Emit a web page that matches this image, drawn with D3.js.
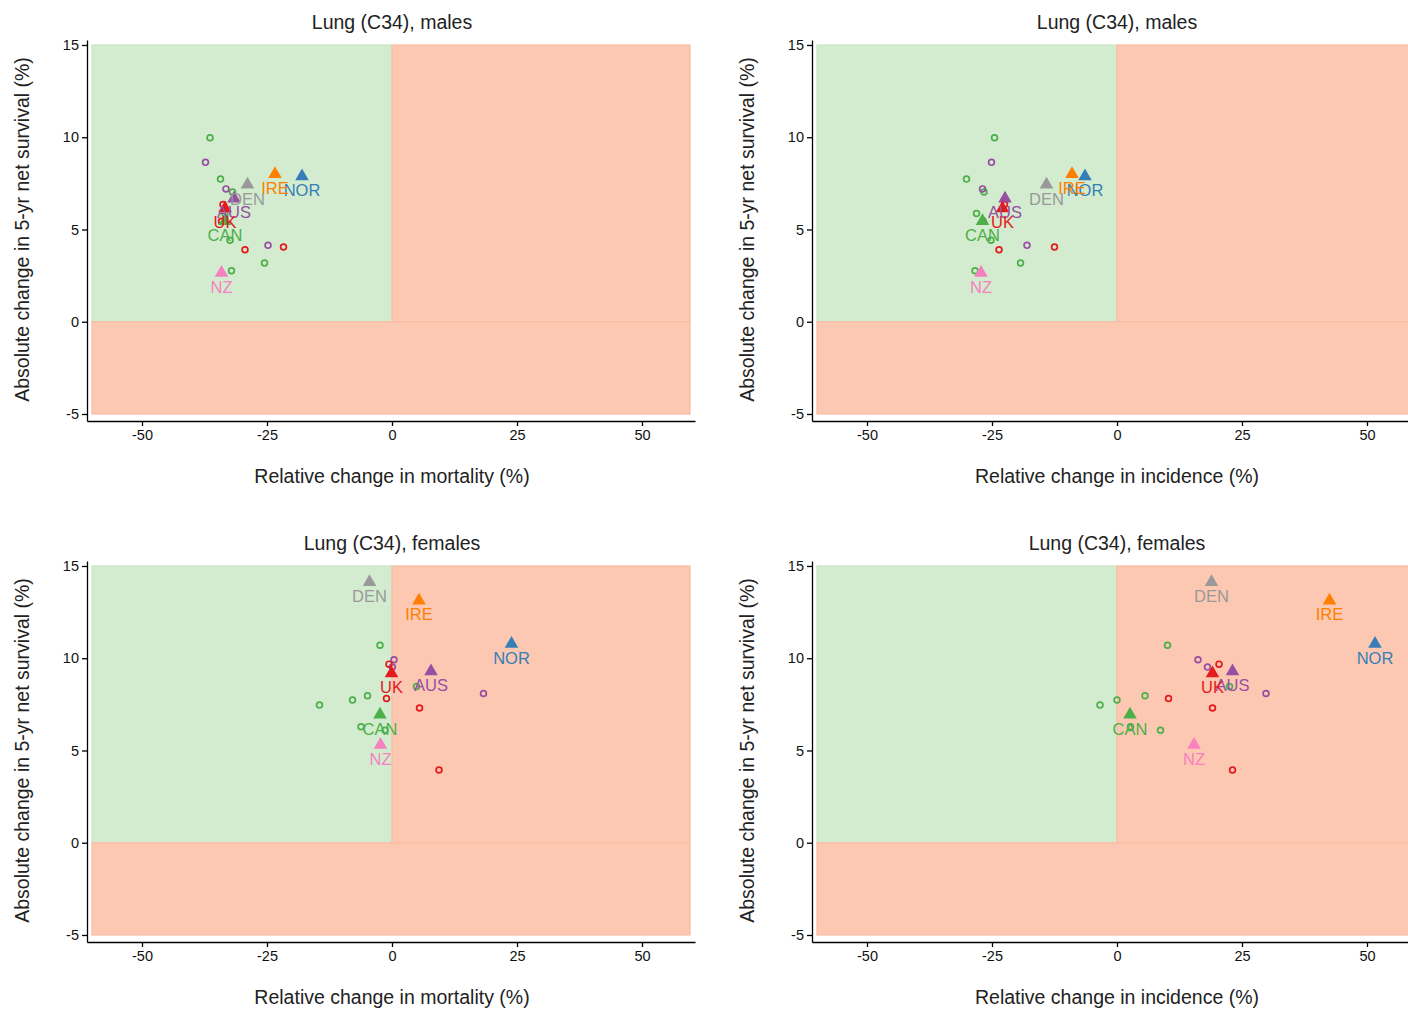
<!DOCTYPE html>
<html>
<head>
<meta charset="utf-8">
<script src="https://cdn.jsdelivr.net/npm/d3@7"></script>
<style>
  body { margin: 0; background: #fff; }
  svg { display: block; font-family: "Liberation Sans", Arial, sans-serif; }
</style>
</head>
<body>
<svg id="chart" width="1408" height="1011"></svg>
<script>
// national markers (triangles)
const countries = ['NOR', 'IRE', 'DEN', 'AUS', 'UK', 'CAN', 'NZ'];
const countryColors = ['#377eb8', '#ff7f00', '#999999', '#984ea3', '#e41a1c', '#4daf4a', '#f781bf'];

const maleSurv = [7.88, 8.0, 7.43, 6.68, 6.15, 5.45, 2.65];
const maleMort = [-18.0, -23.4, -28.9, -31.6, -33.4, -33.4, -34.1];
const maleInc = [-6.4, -9.0, -14.1, -22.4, -22.9, -26.9, -27.2];

const femaleSurv = [10.78, 13.13, 14.13, 9.29, 9.18, 6.94, 5.31];
const femaleMort = [23.9, 5.4, -4.5, 7.8, -0.1, -2.4, -2.3];
const femaleInc = [51.6, 42.5, 18.9, 23.1, 19.1, 2.6, 15.4];

// sub-national markers (hollow circles): CAN provinces, AUS states, UK nations
const regionGroups = ['CAN', 'AUS', 'UK'];
const regionColors = ['#4daf4a', '#984ea3', '#e41a1c'];

const maleCanSurv = [9.97, 7.73, 7.03, 5.87, 4.42, 3.18, 2.76];
const maleCanMort = [-36.4, -34.3, -31.9, -33.4, -32.4, -25.5, -32.1];
const maleCanInc = [-24.5, -30.1, -26.6, -28.1, -25.2, -19.3, -28.4];
const maleAusSurv = [8.64, 7.2, 4.14];
const maleAusMort = [-37.3, -33.2, -24.8];
const maleAusInc = [-25.1, -26.9, -18.0];
const maleUkSurv = [6.35, 5.44, 3.9, 4.05];
const maleUkMort = [-33.8, -34.1, -29.4, -21.7];
const maleUkInc = [-22.5, -26.8, -23.6, -12.5];

const femaleCanSurv = [10.7, 8.47, 7.97, 7.73, 7.46, 6.29, 6.1];
const femaleCanMort = [-2.4, 4.9, -4.9, -7.9, -14.5, -6.2, -1.4];
const femaleCanInc = [10.1, 22.5, 5.6, 0.0, -3.4, 2.7, 8.7];
const femaleAusSurv = [9.92, 9.52, 8.09];
const femaleAusMort = [0.4, 0.07, 18.3];
const femaleAusInc = [16.2, 18.1, 29.8];
const femaleUkSurv = [9.68, 7.82, 7.3, 3.94];
const femaleUkMort = [-0.6, -1.1, 5.5, 9.4];
const femaleUkInc = [20.4, 10.3, 19.1, 23.1];

const xTicks = [-50, -25, 0, 25, 50];
const yTicks = [-5, 0, 5, 10, 15];

const panels = [
  { title: 'Lung (C34), males', xLabel: 'Relative change in mortality (%)', dx: 0, dy: 0,
    surv: maleSurv, x: maleMort,
    regions: [[maleCanMort, maleCanSurv], [maleAusMort, maleAusSurv], [maleUkMort, maleUkSurv]] },
  { title: 'Lung (C34), males', xLabel: 'Relative change in incidence (%)', dx: 725, dy: 0,
    surv: maleSurv, x: maleInc,
    regions: [[maleCanInc, maleCanSurv], [maleAusInc, maleAusSurv], [maleUkInc, maleUkSurv]] },
  { title: 'Lung (C34), females', xLabel: 'Relative change in mortality (%)', dx: 0, dy: 521,
    surv: femaleSurv, x: femaleMort,
    regions: [[femaleCanMort, femaleCanSurv], [femaleAusMort, femaleAusSurv], [femaleUkMort, femaleUkSurv]] },
  { title: 'Lung (C34), females', xLabel: 'Relative change in incidence (%)', dx: 725, dy: 521,
    surv: femaleSurv, x: femaleInc,
    regions: [[femaleCanInc, femaleCanSurv], [femaleAusInc, femaleAusSurv], [femaleUkInc, femaleUkSurv]] }
];

const svg = d3.select('#chart');

const x = d3.scaleLinear().domain([-61, 60.6]).range([87, 695]);
const y = d3.scaleLinear().domain([-5.38, 15.27]).range([421, 40]);

const triangle = d3.symbol().type(d3.symbolTriangle).size(80);

function drawPanel(p) {
  const g = svg.append('g').attr('transform', `translate(${p.dx},${p.dy})`);

  // quadrant shading
  const zones = [
    { x0: -60, x1: 0, y0: 0, y1: 15, fill: '#d3ecd0', stroke: '#c9e4c5' },
    { x0: 0, x1: 59.6, y0: 0, y1: 15, fill: '#fdc8b2', stroke: '#f9bba4' },
    { x0: -60, x1: 59.6, y0: -5, y1: 0, fill: '#fdc8b2', stroke: '#f9bba4' }
  ];
  g.selectAll('.zone')
    .data(zones)
    .join('rect')
    .attr('class', 'zone')
    .attr('x', d => x(d.x0))
    .attr('y', d => y(d.y1))
    .attr('width', d => x(d.x1) - x(d.x0))
    .attr('height', d => y(d.y0) - y(d.y1))
    .attr('fill', d => d.fill)
    .attr('stroke', d => d.stroke)
    .attr('stroke-width', 1.2);

  // axes
  const yAxis = g.append('g')
    .attr('transform', `translate(${x.range()[0]},0)`)
    .call(d3.axisLeft(y).tickValues(yTicks).tickFormat(d => String(d))
      .tickSize(5).tickSizeOuter(0).tickPadding(3));
  const xAxis = g.append('g')
    .attr('transform', `translate(0,${y.range()[0]})`)
    .call(d3.axisBottom(x).tickValues(xTicks).tickFormat(d => String(d))
      .tickSize(5).tickSizeOuter(0).tickPadding(4));
  [xAxis, yAxis].forEach(a => {
    a.selectAll('path, line').attr('stroke', '#000').attr('stroke-width', 1.3);
    a.selectAll('text').attr('font-size', 14.5).attr('fill', '#111')
      .attr('font-family', '"Liberation Sans", Arial, sans-serif');
  });

  // titles
  g.append('text')
    .attr('x', x(0)).attr('y', 29)
    .attr('text-anchor', 'middle')
    .attr('font-size', 19.5).attr('fill', '#222')
    .text(p.title);
  g.append('text')
    .attr('x', x(0)).attr('y', 483)
    .attr('text-anchor', 'middle')
    .attr('font-size', 19.5).attr('fill', '#222')
    .text(p.xLabel);
  g.append('text')
    .attr('transform', `translate(29,${y(5)}) rotate(-90)`)
    .attr('text-anchor', 'middle')
    .attr('font-size', 19.5).attr('fill', '#222')
    .text('Absolute change in 5-yr net survival (%)');

  // sub-national circles
  p.regions.forEach(([xs, ys], gi) => {
    g.append('g')
      .selectAll('circle')
      .data(xs.map((v, i) => [v, ys[i]]))
      .join('circle')
      .attr('cx', d => x(d[0]))
      .attr('cy', d => y(d[1]))
      .attr('r', 2.9)
      .attr('fill', 'none')
      .attr('stroke', regionColors[gi])
      .attr('stroke-width', 1.7);
  });

  // national triangles + labels
  const pts = countries.map((c, i) => ({ c, color: countryColors[i], vx: p.x[i], vy: p.surv[i] }));
  g.append('g')
    .selectAll('path')
    .data(pts)
    .join('path')
    .attr('d', triangle)
    .attr('transform', d => `translate(${x(d.vx)},${y(d.vy)})`)
    .attr('fill', d => d.color);
  g.append('g')
    .selectAll('text')
    .data(pts)
    .join('text')
    .attr('x', d => x(d.vx))
    .attr('y', d => y(d.vy) + 20)
    .attr('text-anchor', 'middle')
    .attr('font-size', 16.5)
    .attr('fill', d => d.color)
    .text(d => d.c);
}

panels.forEach(drawPanel);
</script>
</body>
</html>
